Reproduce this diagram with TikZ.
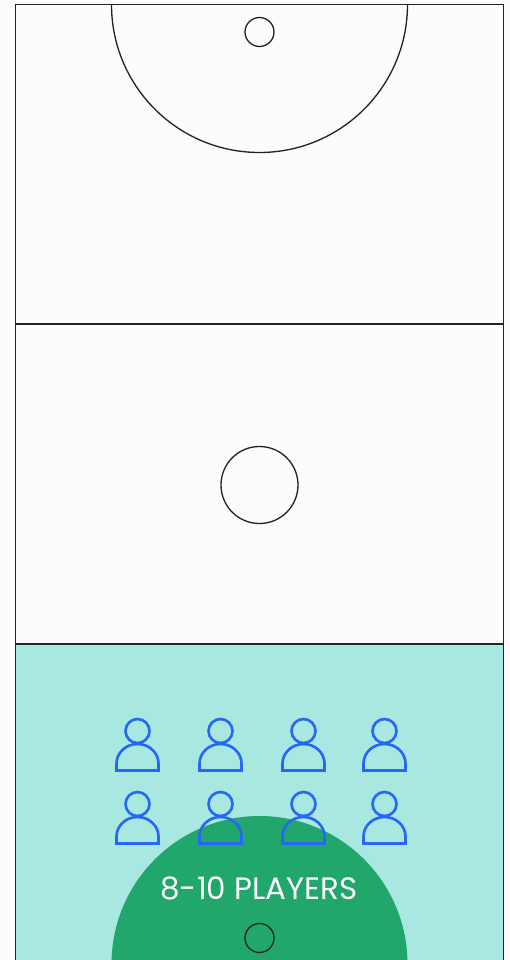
\documentclass[tikz,border=0pt]{standalone}
\usepackage{fontspec}
\setmainfont{Poppins}
\definecolor{paper}{HTML}{FDFCFA}
\definecolor{zone}{HTML}{A9E8E1}
\definecolor{circlefill}{HTML}{21A66B}
\definecolor{person}{HTML}{2468F5}
\definecolor{courtline}{HTML}{232323}
\tikzset{
  line/.style={draw=courtline, line width=0.75pt},
  personline/.style={draw=person, line width=1.5pt},
  pics/player/.style={code={
    \draw[personline] (0, -39.5) circle (12);
    \draw[personline] (-21, 0) -- (-21, -7) arc (180:0:21 and -19.5) -- (21, 0) -- cycle;
  }}
}
\begin{document}
\begin{tikzpicture}[x=0.02cm, y=-0.02cm]

\useasboundingbox (0, 0) rectangle (510, 960);
\clip (0, 0) rectangle (510, 960);
\fill[paper] (0, 0) rectangle (510, 960);

% The shaded third and its circle
\fill[zone] (15.5, 644) rectangle (503.5, 964);
\fill[circlefill] (259.5, 964) circle (148);

% The court
\draw[line] (15.5, 4.5) rectangle (503.5, 964);
\draw[line] (15.5, 324) -- (503.5, 324);
\draw[line] (15.5, 644) -- (503.5, 644);

% The top circles
\draw[line] (111.5, 4.5) arc (180:360:148 and -148);
\draw[line] (259.5, 32) circle (14.5);

% The centre circle
\draw[line] (259.5, 485) circle (38.5);

% The bottom goal
\draw[line] (259.5, 938) circle (14.5);

% The players
\foreach \x in {137.5, 220.5, 303.5, 384.5} {
  \pic at (\x, 770.5) {player};
  \pic at (\x, 843.5) {player};
}

\node[text=white, font=\fontsize{17.6}{20}\selectfont] (players) at (259, 888) {8-10 PLAYERS};

\end{tikzpicture}
\end{document}
